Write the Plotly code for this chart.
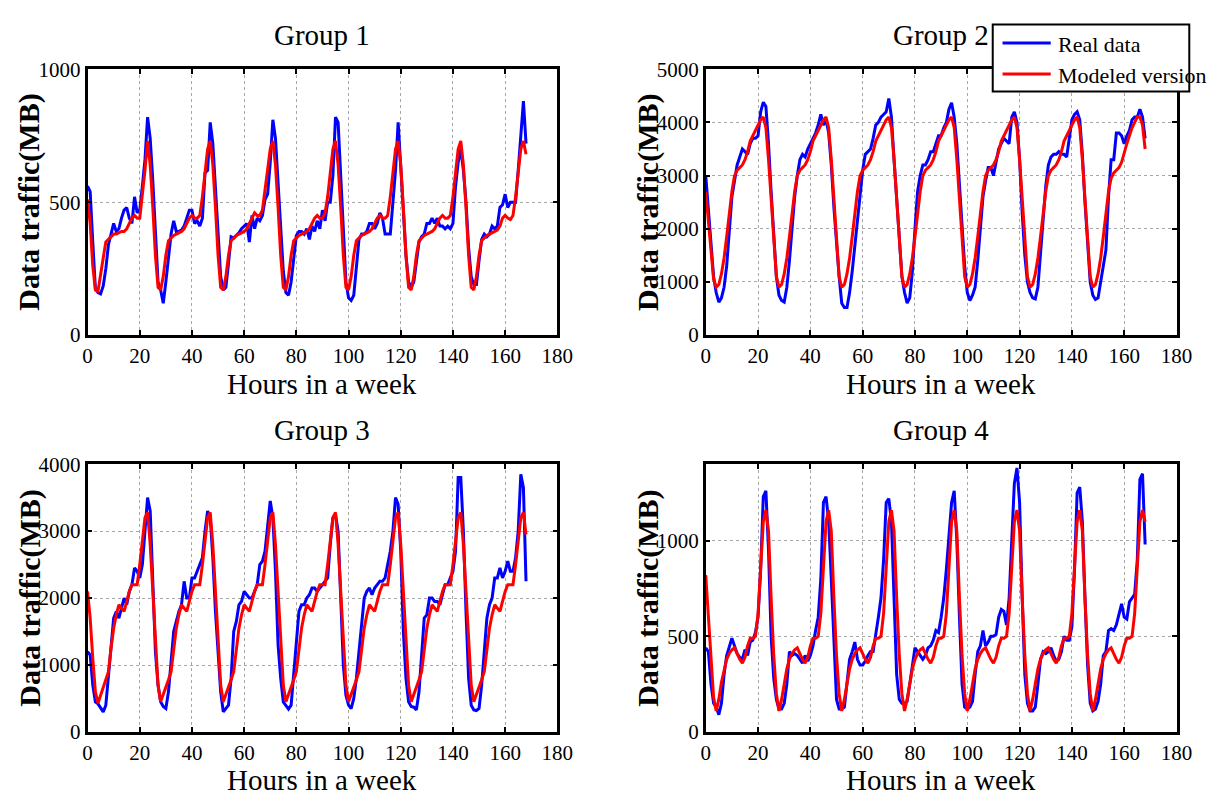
import plotly.graph_objects as go

W, H = 1222, 808

hours = list(range(169))

# ---- Group 1 ----
g1_real = [
    560, 540, 350, 175, 160, 155, 185, 250, 340, 380, 420, 390, 400, 440, 470, 480, 440, 420, 520, 460, 470, 560, 660, 820,
    740, 580, 380, 200, 170, 120, 200, 300, 380, 430, 390, 390, 395, 410, 440, 470, 470, 420, 430, 410, 440, 610, 620, 800,
    720, 560, 380, 220, 170, 180, 270, 370, 365, 375, 385, 400, 410, 420, 350, 450, 400, 440, 430, 450, 510, 530, 650, 810,
    740, 560, 380, 240, 160, 150, 200, 300, 375, 390, 390, 380, 400, 360, 410, 390, 430, 400, 470, 430, 500, 500, 600, 820,
    800, 600, 400, 200, 140, 130, 150, 250, 360, 380, 380, 390, 420, 420, 400, 420, 460, 440, 380, 380, 380, 500, 620, 800,
    640, 470, 300, 200, 180, 200, 280, 350, 370, 380, 420, 420, 440, 420, 440, 410, 410, 400, 410, 400, 420, 560, 650, 700,
    620, 500, 330, 220, 190, 190, 280, 360, 380, 370, 380, 410, 400, 410, 480, 490, 530, 480, 500, 500, 500, 620, 750, 880,
    720,
]
g1_model = [
    510, 420, 260, 170, 165, 220, 290, 350, 360, 370, 380, 380, 385, 390, 390, 400, 420, 440, 450, 440, 440, 520, 620, 730,
    640, 480, 300, 180, 170, 220, 300, 355, 365, 375, 380, 385, 390, 400, 420, 440, 450, 440, 440, 450, 520, 620, 700, 730,
    640, 480, 300, 180, 170, 220, 300, 355, 365, 375, 380, 385, 390, 400, 420, 440, 460, 450, 450, 470, 540, 630, 700, 730,
    640, 480, 300, 180, 170, 220, 300, 355, 365, 375, 380, 385, 390, 400, 420, 440, 450, 440, 440, 460, 520, 620, 700, 730,
    640, 480, 300, 180, 170, 220, 300, 355, 365, 375, 380, 385, 390, 400, 420, 440, 450, 440, 440, 450, 520, 620, 700, 730,
    640, 480, 300, 180, 170, 220, 300, 355, 365, 375, 380, 385, 390, 400, 420, 440, 450, 440, 440, 450, 520, 620, 700, 730,
    640, 480, 300, 180, 170, 220, 300, 355, 365, 375, 380, 385, 390, 395, 410, 440, 450, 440, 435, 450, 520, 620, 700, 730,
    680,
]

# ---- Group 2 ----
g2_real = [
    3000, 2400, 1700, 1100, 800, 620, 700, 900, 1300, 1900, 2600, 2900, 3200, 3350, 3500, 3450, 3400, 3600, 3700, 3700, 3750, 4200, 4380, 4300,
    3600, 2700, 1800, 1100, 750, 650, 620, 900, 1400, 2000, 2600, 3000, 3300, 3400, 3350, 3500, 3600, 3700, 3800, 3950, 4150, 3950, 4050, 3800,
    3200, 2400, 1700, 1100, 600, 520, 520, 800, 1200, 1700, 2200, 2700, 3100, 3400, 3450, 3500, 3700, 3950, 4000, 4100, 4150, 4200, 4450, 4100,
    3300, 2500, 1700, 1100, 800, 600, 700, 1200, 2000, 2700, 3000, 3200, 3200, 3300, 3450, 3450, 3600, 3750, 3750, 3900, 4000, 4250, 4370, 4100,
    3600, 2800, 2000, 1300, 800, 650, 750, 900, 1400, 2000, 2600, 2900, 3150, 3150, 3000, 3250, 3500, 3600, 3700, 3650, 3600, 4100, 4200, 4000,
    3300, 2300, 1500, 1000, 800, 700, 680, 900, 1500, 2200, 2800, 3200, 3350, 3400, 3400, 3450, 3400, 3400, 3350, 3700, 4050, 4150, 4200, 4050,
    3400, 2500, 1700, 1000, 750, 670, 700, 1000, 1300, 1600, 2600, 3300, 3300, 3800, 3800, 3750, 3600, 3750, 3850, 4050, 4100, 4100, 4250, 4100,
    3700,
]
g2_model = [
    2700, 2100, 1500, 1050, 900, 950, 1150, 1450, 1850, 2300, 2700, 3000, 3100, 3150, 3200, 3300, 3450, 3650, 3750, 3850, 3950, 4050, 4100, 3900,
    3300, 2500, 1700, 1100, 900, 950, 1150, 1450, 1850, 2300, 2700, 3000, 3100, 3150, 3200, 3300, 3450, 3650, 3750, 3850, 3950, 4050, 4100, 3900,
    3300, 2500, 1700, 1100, 900, 950, 1150, 1450, 1850, 2300, 2700, 3000, 3100, 3150, 3200, 3300, 3450, 3650, 3750, 3850, 3950, 4050, 4100, 3900,
    3300, 2500, 1700, 1100, 900, 950, 1150, 1450, 1850, 2300, 2700, 3000, 3100, 3150, 3200, 3300, 3450, 3650, 3750, 3850, 3950, 4050, 4100, 3900,
    3300, 2500, 1700, 1100, 900, 950, 1150, 1450, 1850, 2300, 2700, 3000, 3100, 3150, 3200, 3300, 3450, 3650, 3750, 3850, 3950, 4050, 4100, 3900,
    3300, 2500, 1700, 1100, 900, 950, 1150, 1450, 1850, 2300, 2700, 3000, 3100, 3150, 3200, 3300, 3450, 3650, 3750, 3850, 3950, 4050, 4100, 3900,
    3300, 2500, 1700, 1100, 900, 950, 1150, 1450, 1850, 2300, 2700, 2950, 3050, 3100, 3150, 3250, 3450, 3600, 3750, 3900, 4000, 4100, 4100, 3950,
    3500,
]

# ---- Group 3 ----
g3_real = [
    1200, 1150, 700, 450, 420, 350, 300, 400, 800, 1300, 1700, 1800, 1700, 1850, 2000, 1900, 2100, 2200, 2450, 2400, 2300, 2500, 3000, 3500,
    3300, 2200, 1200, 700, 450, 380, 350, 600, 1000, 1500, 1650, 1800, 1900, 2250, 2000, 2000, 2300, 2300, 2400, 2500, 2600, 3000, 3300, 3200,
    2600, 1800, 1200, 600, 300, 350, 400, 800, 1500, 1650, 1900, 1950, 2100, 2050, 2000, 2000, 2100, 2200, 2500, 2550, 2700, 3100, 3450, 3200,
    2400, 1300, 800, 450, 400, 340, 400, 900, 1300, 1800, 1900, 1900, 2000, 2050, 2150, 2150, 2100, 2150, 2200, 2250, 2300, 2800, 3200, 3250,
    3000, 2000, 1000, 550, 400, 350, 500, 800, 1200, 1700, 2000, 2100, 2150, 2050, 2150, 2200, 2250, 2250, 2300, 2500, 2700, 3000, 3500, 3400,
    2700, 1500, 800, 450, 380, 370, 330, 600, 1100, 1700, 1750, 2000, 2000, 1950, 1950, 1900, 2050, 2200, 2200, 2300, 2400, 2700, 3800, 3800,
    3000, 1800, 800, 400, 330, 320, 350, 700, 1200, 1700, 1900, 2000, 2300, 2300, 2450, 2300, 2400, 2550, 2400, 2400, 2600, 3000, 3850, 3650,
    2250,
]
g3_model = [
    2100, 1700, 1100, 600, 430, 550, 680, 780, 900, 1250, 1550, 1750, 1900, 1850, 1800, 1950, 2100, 2200, 2200, 2200, 2500, 2900, 3200, 3280,
    2800, 2100, 1300, 700, 450, 550, 680, 780, 900, 1250, 1550, 1750, 1900, 1850, 1800, 1950, 2100, 2200, 2200, 2200, 2500, 2900, 3200, 3280,
    2800, 2100, 1300, 700, 450, 550, 680, 780, 900, 1250, 1550, 1750, 1900, 1850, 1800, 1950, 2100, 2200, 2200, 2200, 2500, 2900, 3200, 3280,
    2800, 2100, 1300, 700, 450, 550, 680, 780, 900, 1250, 1550, 1750, 1900, 1850, 1800, 1950, 2100, 2200, 2200, 2200, 2500, 2900, 3200, 3280,
    2800, 2100, 1300, 700, 450, 550, 680, 780, 900, 1250, 1550, 1750, 1900, 1850, 1800, 1950, 2100, 2200, 2200, 2200, 2500, 2900, 3200, 3280,
    2800, 2100, 1300, 700, 450, 550, 680, 780, 900, 1250, 1550, 1750, 1900, 1850, 1800, 1950, 2100, 2200, 2200, 2200, 2500, 2900, 3200, 3280,
    2800, 2100, 1300, 700, 450, 550, 680, 780, 900, 1250, 1550, 1750, 1900, 1850, 1800, 1950, 2100, 2200, 2200, 2200, 2500, 2900, 3200, 3280,
    2950,
]

# ---- Group 4 ----
g4_real = [
    440, 420, 250, 150, 130, 90, 150, 300, 400, 450, 490, 450, 410, 390, 380, 430, 400, 470, 480, 520, 600, 850, 1230, 1260,
    950, 500, 280, 170, 120, 120, 150, 250, 420, 400, 410, 400, 380, 360, 400, 370, 400, 450, 530, 600, 800, 1200, 1230, 1100,
    800, 450, 170, 120, 120, 130, 250, 380, 420, 470, 380, 350, 350, 370, 400, 420, 420, 500, 600, 700, 900, 1200, 1220, 1100,
    700, 300, 170, 150, 150, 160, 250, 350, 440, 420, 400, 380, 400, 440, 450, 480, 530, 520, 600, 700, 850, 1050, 1200, 1260,
    1000, 600, 250, 130, 120, 130, 160, 300, 420, 450, 530, 450, 470, 500, 500, 510, 600, 640, 630, 560, 700, 1000, 1300, 1380,
    1200, 700, 300, 150, 110, 110, 130, 250, 380, 420, 410, 420, 440, 400, 370, 380, 420, 500, 480, 480, 550, 850, 1250, 1280,
    1100, 700, 350, 150, 110, 120, 160, 250, 400, 420, 530, 540, 530, 560, 620, 670, 600, 590, 680, 700, 720, 900, 1320, 1350,
    980,
]
g4_model = [
    820, 600, 350, 180, 110, 170, 260, 330, 380, 410, 430, 440, 410, 380, 360, 390, 450, 490, 490, 500, 620, 850, 1100, 1160,
    1050, 700, 400, 200, 110, 170, 260, 330, 380, 410, 430, 440, 410, 380, 360, 390, 450, 490, 490, 500, 620, 850, 1100, 1160,
    1050, 700, 400, 200, 110, 170, 260, 330, 380, 410, 430, 440, 410, 380, 360, 390, 450, 490, 490, 500, 620, 850, 1100, 1160,
    1050, 700, 400, 200, 110, 170, 260, 330, 380, 410, 430, 440, 410, 380, 360, 390, 450, 490, 490, 500, 620, 850, 1100, 1160,
    1050, 700, 400, 200, 110, 170, 260, 330, 380, 410, 430, 440, 410, 380, 360, 390, 450, 490, 490, 500, 620, 850, 1100, 1160,
    1050, 700, 400, 200, 110, 170, 260, 330, 380, 410, 430, 440, 410, 380, 360, 390, 450, 490, 490, 500, 620, 850, 1100, 1160,
    1050, 700, 400, 200, 110, 170, 260, 330, 380, 410, 430, 440, 410, 380, 360, 390, 450, 490, 490, 500, 620, 850, 1100, 1160,
    1100,
]

groups = [
    ("Group 1", g1_real, g1_model, [0, 1000], [0, 500, 1000]),
    ("Group 2", g2_real, g2_model, [0, 5000], [0, 1000, 2000, 3000, 4000, 5000]),
    ("Group 3", g3_real, g3_model, [0, 4000], [0, 1000, 2000, 3000, 4000]),
    ("Group 4", g4_real, g4_model, [0, 1400], [0, 500, 1000]),
]
x_ticks = [0, 20, 40, 60, 80, 100, 120, 140, 160, 180]

BLUE = "#0000FF"
RED = "#FF0000"
SERIF = "Liberation Serif"


def px(x):
    return x / W


def py(y):
    return 1 - y / H


# pixel boxes of the four panels: (left, right, top, bottom)
boxes = [(84, 562, 59, 333), (713, 1192, 59, 333), (84, 562, 466, 742), (713, 1192, 466, 742)]

fig = go.Figure()
layout = dict(
    width=W, height=H,
    margin=dict(l=0, r=0, t=0, b=0),
    paper_bgcolor="white", plot_bgcolor="white",
    showlegend=False,
    font=dict(family=SERIF, color="black"),
)
annotations = []
shapes = []

for i, (title, real, model, yr, yt) in enumerate(groups):
    n = "" if i == 0 else str(i + 1)
    left, right, top, bottom = boxes[i]
    fig.add_trace(go.Scatter(x=hours, y=real, mode="lines", name="Real data",
                             line=dict(color=BLUE, width=3), xaxis="x" + n, yaxis="y" + n))
    fig.add_trace(go.Scatter(x=hours, y=model, mode="lines", name="Modeled version",
                             line=dict(color=RED, width=3), xaxis="x" + n, yaxis="y" + n))
    common = dict(
        showgrid=True, gridcolor="#a8a8a8", griddash="dot", gridwidth=1,
        showline=True, linecolor="black", linewidth=2.5, mirror="ticks",
        ticks="inside", ticklen=5, tickwidth=2, tickcolor="black",
        zeroline=False, tickfont=dict(family=SERIF, size=21, color="black"),
    )
    layout["xaxis" + n] = dict(common, domain=[px(left), px(right)], range=[0, 180],
                               tickvals=x_ticks, anchor="y" + n)
    layout["yaxis" + n] = dict(common, domain=[py(bottom), py(top)], range=yr,
                               tickvals=yt, anchor="x" + n)
    cx = (left + right) / 2
    annotations.append(dict(text=title, x=px(cx), y=py(top - 35), xref="paper", yref="paper",
                            xanchor="center", yanchor="middle", showarrow=False,
                            font=dict(family=SERIF, size=29, color="black")))
    annotations.append(dict(text="Hours in a week", x=px(cx), y=py(bottom + 50), xref="paper",
                            yref="paper", xanchor="center", yanchor="middle", showarrow=False,
                            font=dict(family=SERIF, size=29, color="black")))
    annotations.append(dict(text="<b>Data traffic(MB)</b>", x=px(left - 59), y=py((top + bottom) / 2),
                            xref="paper", yref="paper", xanchor="center", yanchor="middle",
                            textangle=-90, showarrow=False,
                            font=dict(family=SERIF, size=30, color="black")))

# legend box over the top-right panel
shapes.append(dict(type="rect", xref="paper", yref="paper", x0=px(1005), x1=px(1205),
                   y0=py(82), y1=py(13), fillcolor="white", line=dict(color="black", width=2),
                   layer="above"))
for yy, col, label in [(32, BLUE, "Real data"), (64, RED, "Modeled version")]:
    shapes.append(dict(type="line", xref="paper", yref="paper", x0=px(1015), x1=px(1064),
                       y0=py(yy), y1=py(yy), line=dict(color=col, width=3), layer="above"))
    annotations.append(dict(text=label, x=px(1069), y=py(yy + 1), xref="paper", yref="paper",
                            xanchor="left", yanchor="middle", showarrow=False,
                            font=dict(family=SERIF, size=22, color="black")))

layout["annotations"] = annotations
layout["shapes"] = shapes
fig.update_layout(**layout)
fig.write_html("out.html")
